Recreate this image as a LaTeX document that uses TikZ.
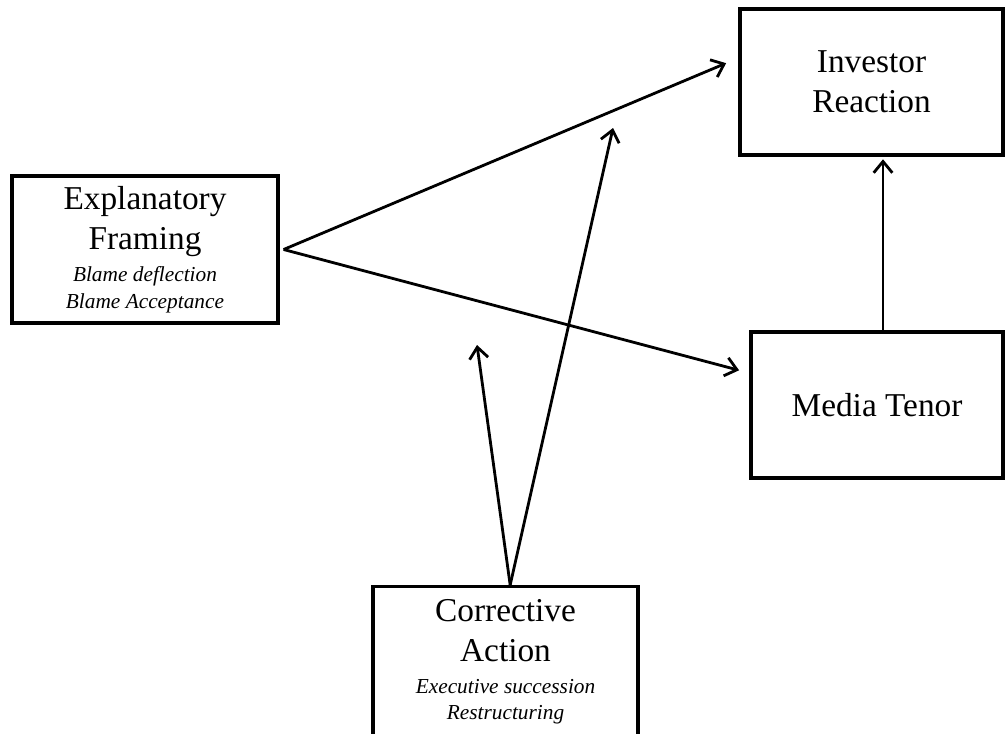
\documentclass[tikz,border=0pt]{standalone}
\usepackage{fontspec}
\setmainfont{Liberation Serif}
\usetikzlibrary{arrows.meta,calc}

\begin{document}
\begin{tikzpicture}[x=0.75pt,y=-0.75pt,
        box/.style={draw,line width=2.4pt,rectangle,align=center,inner sep=0pt,
            font=\fontsize{25}{30}\selectfont},
        arr/.style={line width=2.1pt,-{Straight Barb[length=8.5pt,width=14pt,line width=2.1pt]}}]
        \useasboundingbox (0,0) rectangle (1005,733);

        \node[box,minimum width=199.5pt,minimum height=110.25pt] (expl) at (145,249.5)
            {Explanatory\\ Framing\\[-6pt]
             {\fontsize{16}{20}\selectfont\itshape Blame deflection}\\[-10pt]
             {\fontsize{16}{20}\selectfont\itshape Blame Acceptance}};
        \node[box,minimum width=197.25pt,minimum height=109.5pt] (inv) at (871.5,82) {Investor\\ Reaction};
        \node[box,minimum width=189pt,minimum height=109.5pt] (med) at (877,405) {Media Tenor};
        \node[box,minimum width=198.75pt,minimum height=112.5pt,anchor=north] (corr) at (505.5,585)
            {Corrective\\ Action\\[-6pt]
             {\fontsize{16}{20}\selectfont\itshape Executive succession}\\[-10pt]
             {\fontsize{16}{20}\selectfont\itshape Restructuring}};

        \coordinate (upper) at (613,128);
        \coordinate (lower) at (477,345);

        \draw[arr,shorten >=10pt] ([xshift=3pt]expl.east) -- ([yshift=18pt]inv.west);
        \draw[arr,shorten >=8pt]  ([xshift=3pt]expl.east) -- ([yshift=24pt]med.west);
        \draw[arr,shorten >=2pt]  ([xshift=4.5pt]med.north) -- ([xshift=4.5pt]med.north |- inv.south);
        \draw[arr] ([xshift=3.5pt]corr.north) -- (upper);
        \draw[arr] ([xshift=3.5pt]corr.north) -- (lower);
\end{tikzpicture}
\end{document}
